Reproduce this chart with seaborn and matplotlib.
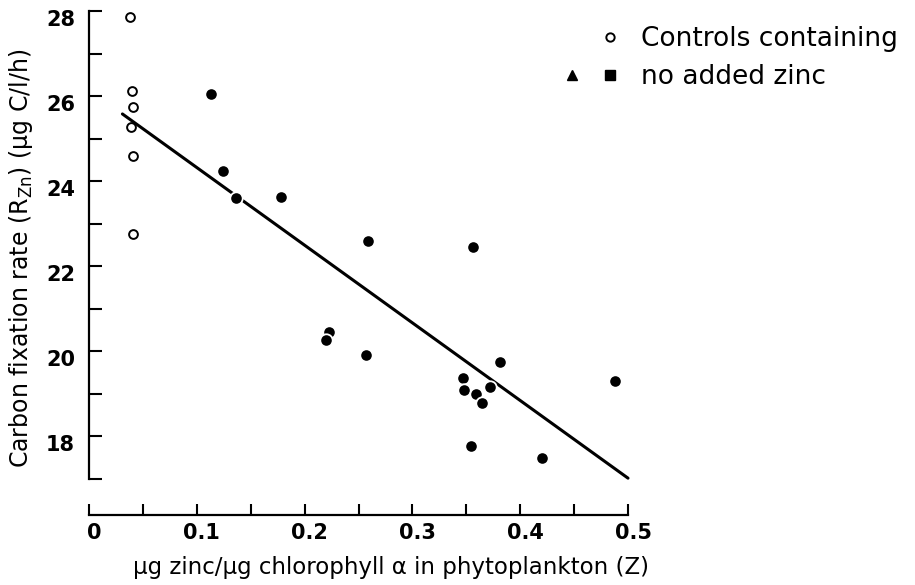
import numpy as np
import pandas as pd
import matplotlib
matplotlib.use('Agg')
import matplotlib.pyplot as plt
import seaborn as sns
from matplotlib.lines import Line2D
from matplotlib.legend_handler import HandlerTuple
from matplotlib.transforms import ScaledTranslation

# ---- data ----
control_x = [0.038, 0.040, 0.041, 0.039, 0.041, 0.041]
control_y = [27.86, 26.12, 25.74, 25.27, 24.59, 22.76]
zinc_x = [0.113, 0.124, 0.136, 0.178, 0.259, 0.356, 0.223, 0.220, 0.257,
          0.347, 0.348, 0.359, 0.365, 0.372, 0.381, 0.354, 0.420, 0.488]
zinc_y = [26.05, 24.24, 23.61, 23.63, 22.59, 22.45, 20.46, 20.27, 19.92,
          19.37, 19.09, 19.00, 18.79, 19.16, 19.75, 17.78, 17.49, 19.30]
fit_x = [0.031, 0.500]
fit_y = [25.58, 17.02]
x_ticks = [0, 0.1, 0.2, 0.3, 0.4, 0.5]
x_tick_labels = ['0', '0.1', '0.2', '0.3', '0.4', '0.5']
x_minor = [0.05, 0.15, 0.25, 0.35, 0.45]
y_ticks = [18, 20, 22, 24, 26, 28]
y_minor = [17, 19, 21, 23, 25, 27]
legend_labels = ['Controls containing', 'no added zinc']
x_label = 'μg zinc/μg chlorophyll α in phytoplankton (Z)'
y_label = r'Carbon fixation rate (R$_{\mathregular{Zn}}$) (μg C/l/h)'

sns.set_theme(style='ticks')
plt.rcParams['font.family'] = ['DejaVu Sans']

fig = plt.figure(figsize=(9.15, 5.85), dpi=100)
fig.patch.set_facecolor('white')
ax = fig.add_axes([89 / 915, 106 / 585, 539 / 915, 468 / 585])
ax.set_facecolor('white')

df_c = pd.DataFrame({'x': control_x, 'y': control_y})
df_z = pd.DataFrame({'x': zinc_x, 'y': zinc_y})
df_f = pd.DataFrame({'x': fit_x, 'y': fit_y})

sns.lineplot(data=df_f, x='x', y='y', ax=ax, color='black', linewidth=2.2,
             zorder=2)
sns.scatterplot(data=df_c, x='x', y='y', ax=ax, marker='o', s=40,
                facecolor='white', edgecolor='black', linewidth=1.4, zorder=3)
sns.scatterplot(data=df_z, x='x', y='y', ax=ax, marker='o', s=80,
                color='black', edgecolor='white', linewidth=1.3, zorder=4)

ax.set_xlim(0, 0.5)
ax.set_ylim(17, 28)
for c in ax.collections:
    c.set_clip_on(False)
for l in ax.lines:
    l.set_clip_on(False)

sns.despine(ax=ax)
ax.spines['bottom'].set_position(('outward', 26))
for s in ['left', 'bottom']:
    ax.spines[s].set_linewidth(1.6)
    ax.spines[s].set_color('black')

ax.set_xticks(x_ticks)
ax.set_xticklabels(x_tick_labels)
ax.set_xticks(x_minor, minor=True)
ax.set_yticks(y_ticks)
ax.set_yticks(y_minor, minor=True)
ax.tick_params(axis='both', which='both', direction='in', color='black',
               width=1.5)
ax.tick_params(axis='x', which='both', length=8, pad=6)
ax.tick_params(axis='y', which='both', length=9, pad=10)
ax.tick_params(axis='both', which='major', labelsize=15, labelcolor='black')
for lab in ax.get_xticklabels() + ax.get_yticklabels():
    lab.set_fontweight('bold')

dpi_scale = fig.dpi_scale_trans
for lab in ax.get_yticklabels():
    lab.set_transform(lab.get_transform() + ScaledTranslation(0, -7 / 100, dpi_scale))
for lab in ax.get_xticklabels():
    lab.set_transform(lab.get_transform() + ScaledTranslation(5 / 100, 0, dpi_scale))

ax.set_xlabel(x_label, fontsize=16.5, color='black')
ax.set_ylabel(y_label, fontsize=17, color='black')
ax.xaxis.set_label_coords(0.56, -0.165)
ax.yaxis.set_label_coords(-0.1, 0.472)

blank = Line2D([], [], linestyle='none', marker=None)
h_circle = Line2D([], [], linestyle='none', marker='o', markersize=6,
                  markerfacecolor='white', markeredgecolor='black',
                  markeredgewidth=1.4)
h_tri = Line2D([], [], linestyle='none', marker='^', markersize=7,
               color='black')
h_sq = Line2D([], [], linestyle='none', marker='s', markersize=7,
              color='black')
leg = ax.legend([(blank, h_circle), (h_tri, h_sq)], legend_labels,
                handler_map={tuple: HandlerTuple(ndivide=None, pad=0.6)},
                loc='upper left', bbox_to_anchor=(561 / 915, 1 - 26 / 585),
                bbox_transform=fig.transFigure, frameon=False,
                fontsize=19, handlelength=2.3, handletextpad=0.75,
                labelspacing=0.45, borderpad=0, borderaxespad=0)
for t in leg.get_texts():
    t.set_color('black')

fig.savefig('out.png', dpi=100, facecolor='white')
